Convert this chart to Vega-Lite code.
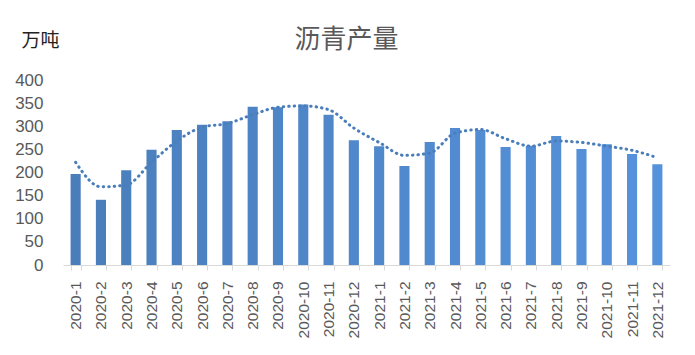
{
  "$schema": "https://vega.github.io/schema/vega-lite/v6.json",
  "autosize": "none",
  "width": 607,
  "height": 185,
  "padding": {"left": 63, "top": 80, "right": 25, "bottom": 90},
  "background": "white",
  "title": {
    "text": "沥青产量",
    "font": "Noto Sans CJK SC",
    "fontSize": 26,
    "fontWeight": "normal",
    "color": "#595959",
    "anchor": "middle",
    "frame": "group",
    "dx": -20,
    "offset": -22
  },
  "data": {
    "values": [
      {"month": "2020-1", "value": 197, "ma": 222},
      {"month": "2020-2", "value": 141, "ma": 169},
      {"month": "2020-3", "value": 205, "ma": 173},
      {"month": "2020-4", "value": 249, "ma": 222},
      {"month": "2020-5", "value": 292, "ma": 268},
      {"month": "2020-6", "value": 303, "ma": 298},
      {"month": "2020-7", "value": 311, "ma": 306},
      {"month": "2020-8", "value": 342, "ma": 325},
      {"month": "2020-9", "value": 341, "ma": 341},
      {"month": "2020-10", "value": 347, "ma": 344},
      {"month": "2020-11", "value": 325, "ma": 336},
      {"month": "2020-12", "value": 270, "ma": 296},
      {"month": "2021-1", "value": 257, "ma": 265},
      {"month": "2021-2", "value": 214, "ma": 237},
      {"month": "2021-3", "value": 266, "ma": 242},
      {"month": "2021-4", "value": 296, "ma": 285},
      {"month": "2021-5", "value": 292, "ma": 293},
      {"month": "2021-6", "value": 255, "ma": 273},
      {"month": "2021-7", "value": 258, "ma": 257},
      {"month": "2021-8", "value": 279, "ma": 268},
      {"month": "2021-9", "value": 251, "ma": 265},
      {"month": "2021-10", "value": 261, "ma": 257},
      {"month": "2021-11", "value": 240, "ma": 248},
      {"month": "2021-12", "value": 218, "ma": 232}
    ]
  },
  "encoding": {
    "x": {
      "field": "month",
      "type": "ordinal",
      "sort": null,
      "scale": {"paddingInner": 0.6, "paddingOuter": 0.3},
      "axis": {
        "title": null,
        "labelAngle": -90,
        "labelFont": "Liberation Sans",
        "labelFontSize": 15.5,
        "labelColor": "#595959",
        "labelPadding": 11,
        "domainColor": "#d9d9d9",
        "domainWidth": 1,
        "tickColor": "#d9d9d9",
        "tickSize": 5,
        "tickBand": "extent"
      }
    }
  },
  "layer": [
    {
      "mark": {"type": "bar"},
      "encoding": {
        "y": {
          "field": "value",
          "type": "quantitative",
          "scale": {"domain": [0, 400]},
          "axis": {
            "title": "万吨",
            "titleFont": "Noto Sans CJK SC",
            "titleFontSize": 19,
            "titleFontWeight": "normal",
            "titleColor": "#222222",
            "titleAngle": 0,
            "titleAlign": "left",
            "titleBaseline": "middle",
            "titleX": -42,
            "titleY": -40,
            "values": [0, 50, 100, 150, 200, 250, 300, 350, 400],
            "labelOverlap": false,
            "labelFont": "Liberation Sans",
            "labelFontSize": 17,
            "labelColor": "#595959",
            "labelPadding": 20,
            "ticks": false,
            "domain": false,
            "grid": false
          }
        },
        "color": {
          "field": "month",
          "type": "ordinal",
          "sort": null,
          "legend": null,
          "scale": {
            "range": ["#4a7ebb", "#4b7fbc", "#4b80be", "#4c81bf", "#4c82c1", "#4d82c2", "#4d83c4", "#4e84c5", "#4e85c6", "#4f86c8", "#4f87c9", "#5088cb", "#5088cc", "#5189ce", "#518acf", "#528bd1", "#528cd2", "#538dd3", "#538ed5", "#548fd6", "#548fd8", "#5590d9", "#5691db", "#5692dc"]
          }
        }
      }
    },
    {
      "mark": {
        "type": "line",
        "color": "#4a7ebb",
        "strokeWidth": 3,
        "strokeDash": [0.5, 5],
        "strokeCap": "round",
        "interpolate": "monotone"
      },
      "encoding": {
        "y": {
          "field": "ma",
          "type": "quantitative",
          "scale": {"domain": [0, 400]},
          "axis": {
            "title": "万吨",
            "titleFont": "Noto Sans CJK SC",
            "titleFontSize": 19,
            "titleFontWeight": "normal",
            "titleColor": "#222222",
            "titleAngle": 0,
            "titleAlign": "left",
            "titleBaseline": "middle",
            "titleX": -42,
            "titleY": -40,
            "values": [0, 50, 100, 150, 200, 250, 300, 350, 400],
            "labelOverlap": false,
            "labelFont": "Liberation Sans",
            "labelFontSize": 17,
            "labelColor": "#595959",
            "labelPadding": 20,
            "ticks": false,
            "domain": false,
            "grid": false
          }
        }
      }
    }
  ],
  "config": {
    "view": {"stroke": null}
  }
}
